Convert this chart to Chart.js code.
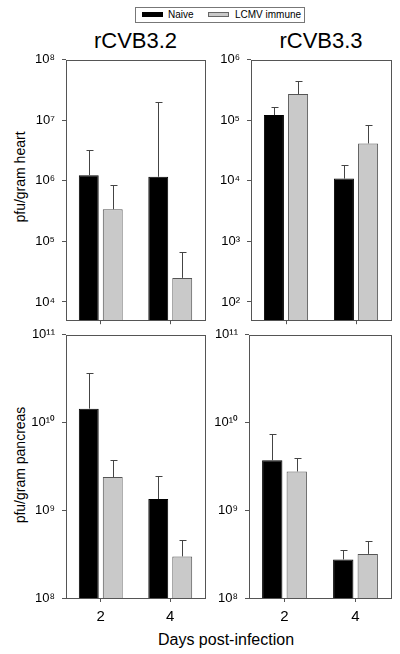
<!DOCTYPE html>
<html>
<head>
<meta charset="utf-8">
<script src="https://cdn.jsdelivr.net/npm/chart.js@4.4.1/dist/chart.umd.min.js"></script>
<style>
  body { margin: 0; background: #fff; font-family: "Liberation Sans", Arial, sans-serif; }
  #page { position: relative; width: 400px; height: 654px; overflow: hidden; }
  canvas { position: absolute; }
  .ttl { position: absolute; font-size: 22px; line-height: 22px; text-align: center; color: #000; }
  .ytl { position: absolute; font-size: 14px; white-space: nowrap; transform: translate(-50%, -50%) rotate(-90deg); color: #000; }
  #legend { position: absolute; left: 135px; top: 7px; width: 168px; height: 14px; border: 1px solid #777; font-size: 10px; line-height: 14px; }
  #legend span { position: absolute; }
  .sw { position: absolute; top: 4px; width: 21px; height: 5px; }
</style>
</head>
<body>
<div id="page">
  <div id="legend">
    <div class="sw" style="left:6px;background:#000;"></div><span style="left:32px;">Naive</span>
    <div class="sw" style="left:72px;background:#c9c9c9;border:1px solid #666;width:19px;height:3px;"></div><span style="left:99px;">LCMV immune</span>
  </div>
  <div class="ttl" style="left:66px;width:139px;top:30px;">rCVB3.2</div>
  <div class="ttl" style="left:251px;width:140px;top:30px;">rCVB3.3</div>
  <div class="ytl" style="left:20px;top:177px;">pfu/gram heart</div>
  <div class="ytl" style="left:20px;top:465px;">pfu/gram pancreas</div>
  <div class="ttl" style="left:126px;width:200px;top:631px;font-size:16px;line-height:18px;">Days post-infection</div>

  <canvas id="tl" width="210" height="290" style="left:0px;top:45px;"></canvas>
  <canvas id="tr" width="200" height="290" style="left:200px;top:45px;"></canvas>
  <canvas id="bl" width="210" height="334" style="left:0px;top:320px;"></canvas>
  <canvas id="br" width="200" height="334" style="left:200px;top:320px;"></canvas>
</div>

<script>
// values (upper end of each error bar in *Err)
var days = ['2', '4'];

var heart32Naive = [1.24e6, 1.17e6];
var heart32NaiveErr = [3.2e6, 2.0e7];
var heart32Immune = [3.4e5, 2.5e4];
var heart32ImmuneErr = [8.4e5, 6.6e4];

var heart33Naive = [1.22e5, 1.09e4];
var heart33NaiveErr = [1.68e5, 1.86e4];
var heart33Immune = [2.72e5, 4.15e4];
var heart33ImmuneErr = [4.5e5, 8.4e4];

var panc32Naive = [1.44e10, 1.34e9];
var panc32NaiveErr = [3.7e10, 2.43e9];
var panc32Immune = [2.39e9, 2.98e8];
var panc32ImmuneErr = [3.72e9, 4.55e8];

var panc33Naive = [3.72e9, 2.75e8];
var panc33NaiveErr = [7.35e9, 3.55e8];
var panc33Immune = [2.77e9, 3.18e8];
var panc33ImmuneErr = [3.98e9, 4.52e8];

var heart32Ticks = [1e4, 1e5, 1e6, 1e7, 1e8];
var heart33Ticks = [1e2, 1e3, 1e4, 1e5, 1e6];
var pancTicks = [1e8, 1e9, 1e10, 1e11];

Chart.defaults.font.family = '"Liberation Sans", Arial, sans-serif';
Chart.defaults.color = '#000';

var supDigits = { '0': '\u2070', '1': '\u00b9', '2': '\u00b2', '3': '\u00b3', '4': '\u2074', '5': '\u2075', '6': '\u2076', '7': '\u2077', '8': '\u2078', '9': '\u2079' };
function powLabel(v) {
  var e = String(Math.round(Math.log10(v)));
  var s = '';
  for (var i = 0; i < e.length; i++) s += supDigits[e[i]];
  return '10' + s;
}

// frame round the plot area
var boxPlugin = {
  id: 'box',
  beforeDatasetsDraw: function (chart) {
    var a = chart.chartArea, ctx = chart.ctx;
    ctx.save();
    ctx.strokeStyle = '#555';
    ctx.lineWidth = 1;
    ctx.strokeRect(Math.round(a.left) + 0.5, Math.round(a.top) + 0.5, Math.round(a.right - a.left), Math.round(a.bottom - a.top));
    ctx.restore();
  }
};

// upward error bars
var errorBars = {
  id: 'errorBars',
  afterDatasetsDraw: function (chart) {
    var ctx = chart.ctx, y = chart.scales.y;
    chart.data.datasets.forEach(function (ds, i) {
      chart.getDatasetMeta(i).data.forEach(function (bar, j) {
        var top = Math.round(y.getPixelForValue(ds.errUp[j])) + 0.5;
        var x = Math.round(bar.x) + 0.5;
        ctx.save();
        ctx.strokeStyle = '#444';
        ctx.lineWidth = 1;
        ctx.beginPath();
        ctx.moveTo(x, bar.y);
        ctx.lineTo(x, top);
        ctx.moveTo(x - 3, top);
        ctx.lineTo(x + 4, top);
        ctx.stroke();
        ctx.restore();
      });
    });
  }
};

function makePanel(id, naive, naiveErr, immune, immuneErr, ticks, min, max, opts) {
  var ctx = document.getElementById(id).getContext('2d');
  return new Chart(ctx, {
    type: 'bar',
    data: {
      labels: days,
      datasets: [
        { label: 'Naive', data: naive, errUp: naiveErr, backgroundColor: '#000', borderColor: '#000', borderWidth: 1 },
        { label: 'LCMV immune', data: immune, errUp: immuneErr, backgroundColor: '#c9c9c9', borderColor: '#555', borderWidth: 1 }
      ]
    },
    options: {
      responsive: false,
      animation: false,
      categoryPercentage: 0.69,
      barPercentage: 0.83,
      layout: { padding: opts.padding },
      plugins: { legend: { display: false }, tooltip: { enabled: false } },
      scales: {
        x: {
          grid: { display: true, offset: false, drawOnChartArea: false, drawTicks: true, tickLength: 4, color: '#555' },
          border: { display: false },
          ticks: { display: opts.xLabels, font: { size: 15 }, padding: 6 },
          afterFit: function (s) { s.height = opts.xHeight; }
        },
        y: {
          type: 'logarithmic',
          min: min,
          max: max,
          grid: { display: true, drawOnChartArea: false, drawTicks: true, tickLength: 4, color: '#555' },
          border: { display: false },
          ticks: { font: { size: 13 }, padding: 7, callback: function (v) { return powLabel(v); } },
          afterBuildTicks: function (s) { s.ticks = ticks.map(function (v) { return { value: v }; }); },
          afterFit: function (s) { s.width = opts.yWidth; }
        }
      }
    },
    plugins: [boxPlugin, errorBars]
  });
}

makePanel('tl', heart32Naive, heart32NaiveErr, heart32Immune, heart32ImmuneErr, heart32Ticks, 5000, 1e8,
  { yWidth: 66, xHeight: 8, xLabels: false, padding: { left: 0, right: 5, top: 10, bottom: 5 } });
makePanel('tr', heart33Naive, heart33NaiveErr, heart33Immune, heart33ImmuneErr, heart33Ticks, 50, 1e6,
  { yWidth: 51, xHeight: 8, xLabels: false, padding: { left: 0, right: 9, top: 10, bottom: 5 } });
makePanel('bl', panc32Naive, panc32NaiveErr, panc32Immune, panc32ImmuneErr, pancTicks, 1e8, 1e11,
  { yWidth: 66, xHeight: 30, xLabels: true, padding: { left: 0, right: 5, top: 12, bottom: 26 } });
makePanel('br', panc33Naive, panc33NaiveErr, panc33Immune, panc33ImmuneErr, pancTicks, 1e8, 1e11,
  { yWidth: 49, xHeight: 30, xLabels: true, padding: { left: 0, right: 9, top: 12, bottom: 26 } });
</script>
</body>
</html>
